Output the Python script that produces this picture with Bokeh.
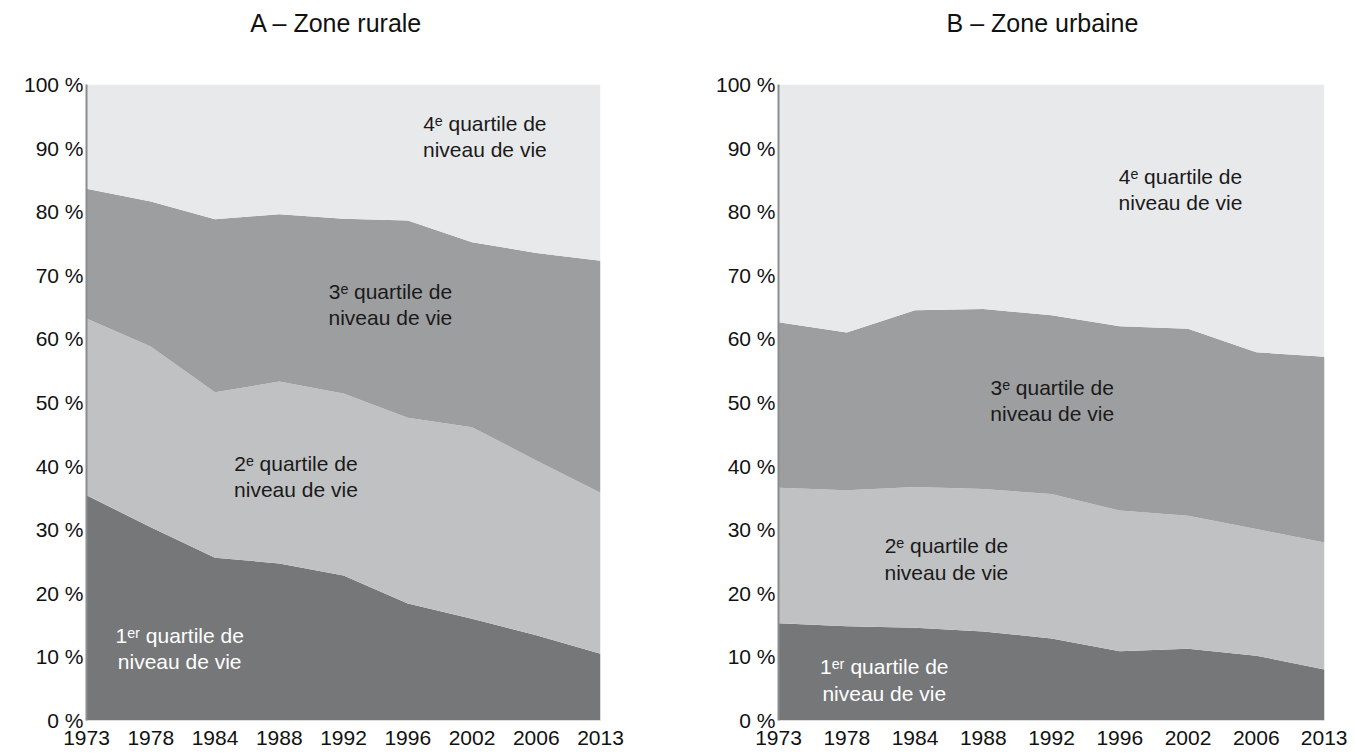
from bokeh.plotting import figure
from bokeh.layouts import row, column
from bokeh.models import ColumnDataSource, Range1d, FixedTicker
from bokeh.core.properties import value
from bokeh.embed import file_html
from bokeh.resources import INLINE

years = ["1973", "1978", "1984", "1988", "1992", "1996", "2002", "2006", "2013"]

# Rural zone shares (%) by quartile of standard of living
rural_q1 = [35.4, 30.4, 25.6, 24.7, 22.8, 18.4, 16.0, 13.4, 10.5]
rural_q2 = [27.8, 28.4, 26.0, 28.6, 28.6, 29.2, 30.1, 27.5, 25.3]
rural_q3 = [20.4, 22.8, 27.2, 26.3, 27.5, 31.0, 29.1, 32.6, 36.5]
rural_q4 = [16.4, 18.4, 21.2, 20.4, 21.1, 21.4, 24.8, 26.5, 27.7]

# Urban zone shares (%)
urban_q1 = [15.3, 14.8, 14.6, 14.0, 12.9, 10.9, 11.3, 10.2, 8.0]
urban_q2 = [21.3, 21.4, 22.1, 22.4, 22.7, 22.1, 20.9, 19.9, 20.0]
urban_q3 = [26.0, 24.8, 27.8, 28.3, 28.1, 29.0, 29.4, 27.8, 29.2]
urban_q4 = [37.4, 39.0, 35.5, 35.3, 36.3, 38.0, 38.4, 42.1, 42.8]

titles = ["A \u2013 Zone rurale", "B \u2013 Zone urbaine"]
label_lines1 = ["1\u1d49\u02b3 quartile de", "2\u1d49 quartile de", "3\u1d49 quartile de", "4\u1d49 quartile de"]
label_line2 = "niveau de vie"

colors = ["#767779", "#c0c1c3", "#9d9ea0", "#e8e9eb"]
FONT = "Liberation Sans"
TOTAL_W = 1347
TITLE_H = 44


def make_panel(q1, q2, q3, q4, label_pos, width, border_left, border_right):
    x = list(range(len(years)))
    src = ColumnDataSource(dict(x=x, q1=q1, q2=q2, q3=q3, q4=q4))
    p = figure(width=width, height=756 - TITLE_H, output_backend="svg", toolbar_location=None,
               x_range=Range1d(0, len(years) - 1), y_range=Range1d(0, 100),
               min_border_left=border_left, min_border_right=border_right,
               min_border_top=84 - TITLE_H, min_border_bottom=36)
    p.varea_stack(stackers=["q1", "q2", "q3", "q4"], x="x", color=colors, source=src)

    p.grid.visible = False
    p.outline_line_color = None
    p.background_fill_color = "white"
    p.border_fill_color = "white"

    p.yaxis.ticker = FixedTicker(ticks=list(range(0, 101, 10)))
    p.yaxis.major_label_overrides = {v: f"{v} %" for v in range(0, 101, 10)}
    p.yaxis.axis_line_color = "#8c8c8c"
    p.yaxis.axis_line_width = 2
    p.yaxis.major_tick_line_color = None
    p.yaxis.minor_tick_line_color = None
    p.yaxis.major_tick_out = 0
    p.yaxis.major_label_standoff = 3

    p.xaxis.ticker = FixedTicker(ticks=x)
    p.xaxis.major_label_overrides = {i: y for i, y in enumerate(years)}
    p.xaxis.axis_line_color = "#dcdcdc"
    p.xaxis.axis_line_width = 1
    p.xaxis.major_tick_line_color = None
    p.xaxis.minor_tick_line_color = None
    p.xaxis.major_tick_out = 0
    p.xaxis.major_label_standoff = 10

    for ax in (p.xaxis, p.yaxis):
        ax.major_label_text_font = FONT
        ax.major_label_text_font_size = "21px"
        ax.major_label_text_color = "#111111"

    for i, (lx, ly) in enumerate(label_pos):
        color = "white" if i == 0 else "#1a1a1a"
        p.text(x=[lx], y=[ly], text=[label_lines1[i] + "\n" + label_line2],
               text_align="center", text_baseline="middle",
               text_font=value(FONT), text_font_size="21px",
               text_line_height=1.15, text_color=color)
    return p


# title strip (screen-like coordinates: x in px, y in px from bottom)
tp = figure(width=TOTAL_W, height=TITLE_H, output_backend="svg", toolbar_location=None,
            x_range=Range1d(0, TOTAL_W), y_range=Range1d(0, TITLE_H),
            min_border=0, x_axis_location=None, y_axis_location=None)
tp.grid.visible = False
tp.outline_line_color = None
tp.text(x=[336, 1042], y=[TITLE_H - 22, TITLE_H - 22], text=titles,
        text_align="center", text_baseline="middle", text_font=value(FONT),
        text_font_size="25px", text_color="#111111")

rural_labels = [(1.45, 11.3), (3.26, 38.4), (4.73, 65.4), (6.2, 91.8)]
urban_labels = [(1.55, 6.4), (2.46, 25.4), (4.01, 50.3), (5.89, 83.5)]

p1 = make_panel(rural_q1, rural_q2, rural_q3, rural_q4, rural_labels, 677, 86, 77)
p2 = make_panel(urban_q1, urban_q2, urban_q3, urban_q4, urban_labels, 670, 101, 23)

layout = column(tp, row(p1, p2), spacing=0)
open("out.html", "w").write(file_html(layout, INLINE))
